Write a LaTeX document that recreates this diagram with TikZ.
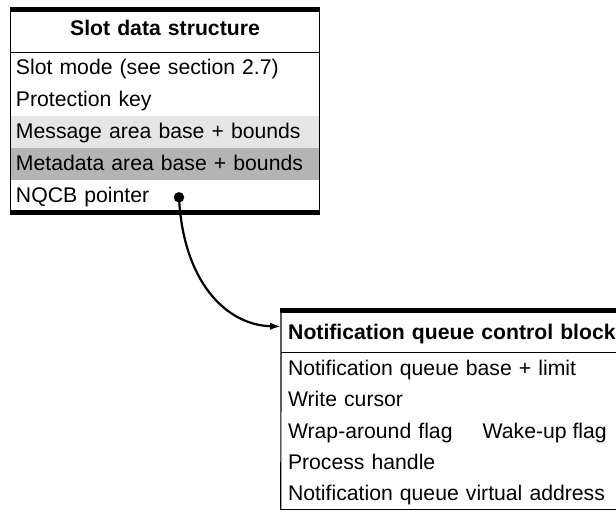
\documentclass[tikz,border=0pt]{standalone}
\usepackage{fontspec}
\setmainfont{Liberation Sans}
\usetikzlibrary{arrows.meta}
\definecolor{lightband}{RGB}{229,229,229}
\definecolor{darkband}{RGB}{180,180,180}
\begin{document}
\begin{tikzpicture}[x=1pt,y=-1pt,
  every node/.style={font=\fontsize{21.2}{25}\selectfont},
  rowa/.style={minimum width=308pt, minimum height=32pt, inner xsep=5pt, inner ysep=0pt,
    text width=298pt, align=left, text height=15.2pt, text depth=2pt},
  titlea/.style={minimum width=308pt, minimum height=40pt, inner sep=0pt,
    text width=308pt, align=center, font=\fontsize{21.2}{25}\selectfont\bfseries,
    text height=15.2pt, text depth=9.2pt},
  rowb/.style={minimum width=335pt, minimum height=31.4pt, inner xsep=7pt, inner ysep=0pt,
    text width=321pt, align=left, text height=15.2pt, text depth=0pt},
  titleb/.style={minimum width=335pt, minimum height=39pt, inner xsep=7pt, inner ysep=0pt,
    text width=330pt, align=left, font=\fontsize{21.2}{25}\selectfont\bfseries,
    text height=15.2pt, text depth=1pt},
  thinline/.style={line width=1.2pt},
  thickline/.style={line width=4.6pt},
  pointer/.style={line width=2.2pt, -{Latex[length=11pt,width=7.5pt]}},
]
\useasboundingbox (0,0) rectangle (616,512);
\clip (0,0) rectangle (616,512);

% Slot data structure
\node[titlea] (st) at (165,32) {Slot data structure};
\node[rowa] (s1) at (165,68) {Slot mode (see section 2.7)};
\node[rowa] (s2) at (165,100) {Protection key};
\node[rowa, fill=lightband] (s3) at (165,132) {Message area base + bounds};
\node[rowa, fill=darkband] (s4) at (165,164) {Metadata area base + bounds};
\node[rowa] (s5) at (165,196) {NQCB pointer};

\draw[thinline] ([yshift=4.6pt]st.north west) -- ([yshift=-2pt]s5.south west);
\draw[thinline] ([yshift=4.6pt]st.north east) -- ([yshift=-2pt]s5.south east);
\draw[thinline] (st.south west) -- (st.south east);
\draw[thickline] ([xshift=-0.6pt,yshift=2.3pt]st.north west) -- ([xshift=0.6pt,yshift=2.3pt]st.north east);
\draw[thickline] ([xshift=-0.6pt]s5.south west) -- ([xshift=0.6pt]s5.south east);

% Notification queue control block
\node[titleb, anchor=west] (nt) at (281,332.5) {Notification queue control block};
\node[rowb] (n1) at (448.5,367.7) {Notification queue base + limit};
\node[rowb] (n2) at (448.5,399.1) {Write cursor};
\node[rowb] (n3) at (448.5,430.5) {Wrap-around flag};
\node[anchor=base east, inner sep=0pt] (wake) at (607,438.1) {Wake-up flag};
\node[rowb] (n4) at (448.5,461.9) {Process handle};
\node[rowb] (n5) at (448.5,493.3) {Notification queue virtual address};

\draw[thinline] ([yshift=4.6pt]nt.north west) -- (n5.south west);
\draw[thinline] (nt.south west) -- (nt.south east);
\draw[thinline] ([xshift=-0.6pt]n5.south west) -- (n5.south east);
\draw[thickline] ([xshift=-0.6pt,yshift=2.3pt]nt.north west) -- ([yshift=2.3pt]nt.north east);

% pointer
\node[circle, fill=black, inner sep=0pt, minimum size=10.5pt] (dot) at (179,197.3) {};
\draw[pointer] (dot.center) .. controls +(4,83) and +(-56,-1.5) .. ([yshift=6pt]nt.west);
\end{tikzpicture}
\end{document}
